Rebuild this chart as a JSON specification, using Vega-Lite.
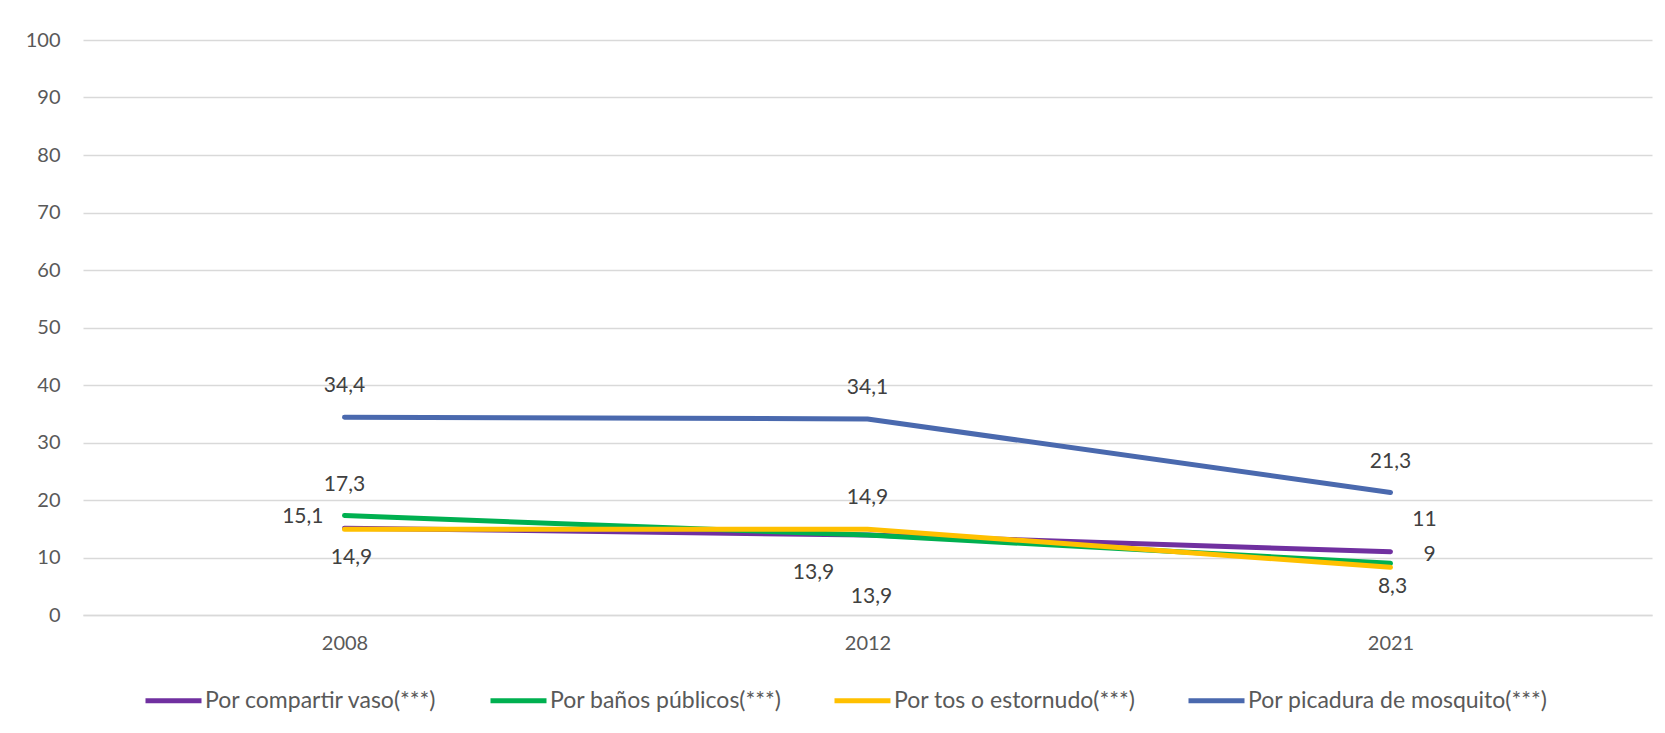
{
  "$schema": "https://vega.github.io/schema/vega-lite/v6.json",
  "autosize": {"type": "none"},
  "width": 1569,
  "height": 575,
  "padding": {"left": 83, "top": 40, "right": 13, "bottom": 118},
  "background": "white",
  "config": {
    "view": {"stroke": null},
    "font": "Lato",
    "axis": {"labelFont": "Lato", "labelFontSize": 20, "labelColor": "#595959", "ticks": false, "title": null},
    "legend": {"padding": 0}
  },
  "data": {
    "values": [
      {"series": "Por compartir vaso(***)", "year": "2008", "value": 15.1, "label": "15,1"},
      {"series": "Por compartir vaso(***)", "year": "2012", "value": 13.9, "label": "13,9"},
      {"series": "Por compartir vaso(***)", "year": "2021", "value": 11, "label": "11"},
      {"series": "Por baños públicos(***)", "year": "2008", "value": 17.3, "label": "17,3"},
      {"series": "Por baños públicos(***)", "year": "2012", "value": 13.9, "label": "13,9"},
      {"series": "Por baños públicos(***)", "year": "2021", "value": 9, "label": "9"},
      {"series": "Por tos o estornudo(***)", "year": "2008", "value": 14.9, "label": "14,9"},
      {"series": "Por tos o estornudo(***)", "year": "2012", "value": 14.9, "label": "14,9"},
      {"series": "Por tos o estornudo(***)", "year": "2021", "value": 8.3, "label": "8,3"},
      {"series": "Por picadura de mosquito(***)", "year": "2008", "value": 34.4, "label": "34,4"},
      {"series": "Por picadura de mosquito(***)", "year": "2012", "value": 34.1, "label": "34,1"},
      {"series": "Por picadura de mosquito(***)", "year": "2021", "value": 21.3, "label": "21,3"}
    ]
  },
  "encoding": {
    "x": {"field": "year", "type": "ordinal", "scale": {"type": "point", "padding": 0.5},
          "axis": {"labelAngle": 0, "domain": true, "domainColor": "#d9d9d9", "domainWidth": 1.5, "labelPadding": 18, "grid": false}},
    "y": {"field": "value", "type": "quantitative", "scale": {"domain": [0, 100]},
          "axis": {"values": [0,10,20,30,40,50,60,70,80,90,100], "domain": false, "grid": true, "gridColor": "#d9d9d9", "gridWidth": 1.5, "labelPadding": 23}}
  },
  "layer": [
    {
      "mark": {"type": "line", "strokeWidth": 5, "strokeCap": "round", "strokeJoin": "round"},
      "encoding": {
        "color": {"field": "series", "type": "nominal",
          "scale": {"domain": ["Por compartir vaso(***)", "Por baños públicos(***)", "Por tos o estornudo(***)", "Por picadura de mosquito(***)"],
                    "range": ["#7030A0", "#00B050", "#FFC000", "#4A69AE"]},
          "legend": {"title": null, "orient": "none", "direction": "horizontal", "legendX": 60, "legendY": 630,
                     "symbolType": "stroke", "symbolSize": 3136, "symbolStrokeWidth": 5,
                     "labelFont": "Lato", "labelFontSize": 23, "labelColor": "#595959", "labelOffset": 1, "columnPadding": 42, "labelLimit": 400}},
        "order": {"value": 0}
      }
    },
    {
      "transform": [{"filter": "datum.series === 'Por picadura de mosquito(***)' || (datum.series === 'Por baños públicos(***)' && datum.year === '2008') || (datum.series === 'Por tos o estornudo(***)' && datum.year === '2012')"}],
      "mark": {"type": "text", "fontSize": 21, "color": "#404040", "baseline": "middle", "dy": -31},
      "encoding": {"text": {"field": "label"}}
    },
    {
      "transform": [{"filter": "datum.series === 'Por compartir vaso(***)' && datum.year === '2008'"}],
      "mark": {"type": "text", "fontSize": 21, "color": "#404040", "baseline": "middle", "align": "right", "dx": -21, "dy": -11},
      "encoding": {"text": {"field": "label"}}
    },
    {
      "transform": [{"filter": "datum.series === 'Por tos o estornudo(***)' && datum.year === '2008'"}],
      "mark": {"type": "text", "fontSize": 21, "color": "#404040", "baseline": "middle", "dx": 7, "dy": 29},
      "encoding": {"text": {"field": "label"}}
    },
    {
      "transform": [{"filter": "datum.series === 'Por compartir vaso(***)' && datum.year === '2012'"}],
      "mark": {"type": "text", "fontSize": 21, "color": "#404040", "baseline": "middle", "dx": -54, "dy": 38},
      "encoding": {"text": {"field": "label"}}
    },
    {
      "transform": [{"filter": "datum.series === 'Por baños públicos(***)' && datum.year === '2012'"}],
      "mark": {"type": "text", "fontSize": 21, "color": "#404040", "baseline": "middle", "dx": 4, "dy": 62},
      "encoding": {"text": {"field": "label"}}
    },
    {
      "transform": [{"filter": "datum.series === 'Por compartir vaso(***)' && datum.year === '2021'"}],
      "mark": {"type": "text", "fontSize": 21, "color": "#404040", "baseline": "middle", "dx": 34, "dy": -32},
      "encoding": {"text": {"field": "label"}}
    },
    {
      "transform": [{"filter": "datum.series === 'Por baños públicos(***)' && datum.year === '2021'"}],
      "mark": {"type": "text", "fontSize": 21, "color": "#404040", "baseline": "middle", "dx": 39, "dy": -8},
      "encoding": {"text": {"field": "label"}}
    },
    {
      "transform": [{"filter": "datum.series === 'Por tos o estornudo(***)' && datum.year === '2021'"}],
      "mark": {"type": "text", "fontSize": 21, "color": "#404040", "baseline": "middle", "dx": 2, "dy": 20},
      "encoding": {"text": {"field": "label"}}
    }
  ]
}
